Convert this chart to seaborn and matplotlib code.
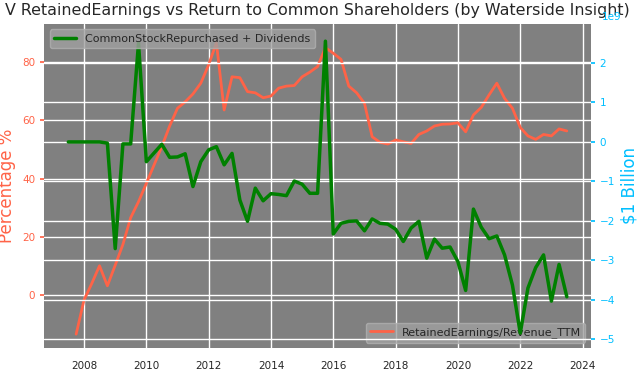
import pandas as pd
import matplotlib
matplotlib.use("Agg")
import matplotlib.pyplot as plt
import seaborn as sns

# quarterly, from 2007 Q2 to 2023 Q2
quarters = pd.date_range("2007-06-30", "2023-06-30", freq="QE")

# CommonStockRepurchased + Dividends, in billions of dollars (65 quarters)
buyback_div_bn = [
    0.0, 0.0, 0.0, 0.0, 0.0, -0.03, -2.7, -0.05, -0.05, 2.5,
    -0.5, -0.28, -0.06, -0.39, -0.38, -0.30, -1.13, -0.5, -0.2, -0.12,
    -0.58, -0.29, -1.47, -2.01, -1.17, -1.49, -1.31, -1.33, -1.36, -0.99,
    -1.07, -1.30, -1.30, 2.55, -2.33, -2.06, -2.01, -2.0, -2.25, -1.95,
    -2.06, -2.08, -2.21, -2.52, -2.18, -2.01, -2.94, -2.46, -2.69, -2.66,
    -3.03, -3.76, -1.70, -2.16, -2.45, -2.38, -2.86, -3.62, -4.84, -3.70,
    -3.18, -2.86, -4.03, -3.10, -3.92,
]

# RetainedEarnings / Revenue_TTM in percent (64 quarters, from 2007 Q3)
retained_pct = [
    -13.4, -1.7, 4.0, 10.1, 3.2, 10.3, 17.4, 26.6, 32.1,
    38.4, 44.7, 51.0, 58.1, 64.2, 66.4, 69.1, 72.8, 79.1, 86.7,
    63.6, 75.0, 74.7, 69.9, 69.5, 67.8, 68.4, 71.1, 71.8, 72.0,
    75.0, 76.6, 78.5, 85.0, 83.1, 81.0, 71.8, 69.5, 65.9, 54.4,
    52.5, 51.9, 53.3, 52.7, 52.1, 55.2, 56.4, 58.1, 58.7, 58.8,
    59.2, 56.1, 61.9, 64.5, 68.8, 72.8, 67.6, 64.2, 57.6, 54.7,
    53.5, 55.2, 54.7, 57.1, 56.4,
]

green_df = pd.DataFrame({"date": quarters,
                         "CommonStockRepurchased + Dividends": [v * 1e9 for v in buyback_div_bn]})
red_df = pd.DataFrame({"date": quarters[1:],
                       "RetainedEarnings/Revenue_TTM": retained_pct})

sns.set_theme(style="darkgrid", rc={"axes.facecolor": "gray", "grid.color": "white"})
plt.rcParams['font.family'] = ['DejaVu Sans']

fig, ax1 = plt.subplots(figsize=(6.4, 3.78), dpi=100)
fig.subplots_adjust(left=0.069, right=0.923, bottom=0.079, top=0.937)

sns.lineplot(data=red_df, x="date", y="RetainedEarnings/Revenue_TTM", ax=ax1,
             color="tomato", linewidth=2.0, label="RetainedEarnings/Revenue_TTM")
ax1.set_ylim(-18.2, 93.2)
ax1.set_ylabel("Percentage %", color="tomato", fontsize=12)
ax1.set_xlabel("")
ax1.tick_params(axis="y", colors="tomato", labelsize=7.5, left=True, length=3)
ax1.tick_params(axis="x", labelsize=7.5, colors="#262626")
ax1.legend(loc="lower right", fontsize=8, facecolor="#a0a0a0", edgecolor="#b0b0b0",
           framealpha=0.8)

ax2 = ax1.twinx()
sns.lineplot(data=green_df, x="date", y="CommonStockRepurchased + Dividends", ax=ax2,
             color="green", linewidth=2.5, label="CommonStockRepurchased + Dividends")
ax2.set_ylim(-5.22e9, 2.99e9)
ax2.set_ylabel("$1 Billion", color="deepskyblue", fontsize=12)
ax2.tick_params(axis="y", colors="deepskyblue", labelsize=7.5, right=True, length=3)
off = ax2.yaxis.get_offset_text()
off.set_color("deepskyblue")
off.set_fontsize(7.5)
off.set_horizontalalignment("left")
off.set_x(1.02)
ax2.legend(loc="upper left", fontsize=8, facecolor="#a0a0a0", edgecolor="#b0b0b0",
           framealpha=0.8)

for ax in (ax1, ax2):
    for s in ax.spines.values():
        s.set_visible(False)

ax1.set_xlim(pd.Timestamp("2006-09-20"), pd.Timestamp("2024-04-05"))
ax1.set_title("V RetainedEarnings vs Return to Common Shareholders (by Waterside Insight)",
              fontsize=11.4, color="#262626", y=1.0, pad=6)

fig.savefig("out.png", dpi=100)
